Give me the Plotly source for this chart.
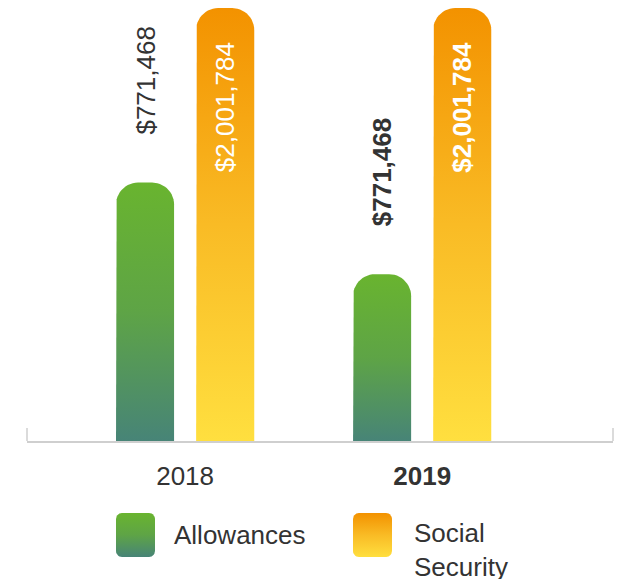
import numpy as np
import plotly.graph_objects as go

# ---------------- data ----------------
years = ["2018", "2019"]
year_ticktext = ["2018", "<b>2019</b>"]
allowances = [1195000, 771468]
social_security = [2001784, 2001784]
allowance_labels = ["$771,468", "<b>$771,468</b>"]
social_labels = ["$2,001,784", "<b>$2,001,784</b>"]
series_names = ["Allowances", "Social<br>Security"]

# ---------------- layout constants ----------------
W, H = 618, 579
PL, PR, PT, PB = 27, 613, 8, 441          # plot area in pixels
X_RANGE = [-0.667, 1.805]
Y_RANGE = [0, max(social_security)]
BAR_W = 0.245
OFFSET = 0.169
CORNER_PX = 22
FONT = "Liberation Sans, Arial, Helvetica, sans-serif"
TXT = "#333333"

GREEN_SCALE = [[0, "#478477"], [0.5, "#5ea446"], [1, "#69b42f"]]
ORANGE_SCALE = [[0, "#ffdf3f"], [0.5, "#f9bb25"], [1, "#f39200"]]

px_per_x = (PR - PL) / (X_RANGE[1] - X_RANGE[0])
px_per_y = (PB - PT) / (Y_RANGE[1] - Y_RANGE[0])


def bar_shape(xc, h, n=14):
    rx = min(CORNER_PX / px_per_x, BAR_W / 2)
    ry = min(CORNER_PX / px_per_y, h)
    x0, x1 = xc - BAR_W / 2, xc + BAR_W / 2
    t1 = np.linspace(np.pi, np.pi / 2, n)
    t2 = np.linspace(np.pi / 2, 0, n)
    xs = [x0] + list(x0 + rx + rx * np.cos(t1)) + list(x1 - rx + rx * np.cos(t2)) + [x1, x0]
    ys = [0] + list(h - ry + ry * np.sin(t1)) + list(h - ry + ry * np.sin(t2)) + [0, 0]
    return xs, ys


def rounded_rect(x0, x1, ytop, ybot, r, n=8):
    # pixel-space rounded rectangle (y grows downward)
    def arc(cx, cy, a0, a1):
        t = np.linspace(a0, a1, n)
        return list(cx + r * np.cos(t)), list(cy - r * np.sin(t))
    xs, ys = [], []
    for cx, cy, a0, a1 in [(x0 + r, ytop + r, np.pi, np.pi / 2),
                           (x1 - r, ytop + r, np.pi / 2, 0),
                           (x1 - r, ybot - r, 0, -np.pi / 2),
                           (x0 + r, ybot - r, -np.pi / 2, -np.pi)]:
        ax, ay = arc(cx, cy, a0, a1)
        xs += ax
        ys += ay
    return xs + [xs[0]], ys + [ys[0]]


fig = go.Figure()

for vals, scale, off in [(allowances, GREEN_SCALE, -OFFSET), (social_security, ORANGE_SCALE, OFFSET)]:
    for i, v in enumerate(vals):
        xs, ys = bar_shape(i + off, v)
        fig.add_trace(go.Scatter(
            x=xs, y=ys, mode="lines", fill="toself",
            line=dict(width=0, color="rgba(0,0,0,0)"),
            fillgradient=dict(type="vertical", colorscale=scale, start=0, stop=v),
            showlegend=False, hoverinfo="skip", xaxis="x", yaxis="y",
        ))

# custom legend swatches on a pixel-space axis covering the whole figure
SW_TOP, SW_BOT = 513, 557
for sx, scale in [(116, GREEN_SCALE), (353, ORANGE_SCALE)]:
    xs, ys = rounded_rect(sx, sx + 39, SW_TOP, SW_BOT, 6)
    fig.add_trace(go.Scatter(
        x=xs, y=ys, mode="lines", fill="toself",
        line=dict(width=0, color="rgba(0,0,0,0)"),
        fillgradient=dict(type="vertical", colorscale=scale, start=SW_BOT, stop=SW_TOP),
        showlegend=False, hoverinfo="skip", xaxis="x2", yaxis="y2",
    ))

annotations = []
for i in range(len(years)):
    annotations.append(dict(
        x=i - OFFSET, y=allowances[i], xref="x", yref="y", text=allowance_labels[i],
        textangle=-90, showarrow=False, xanchor="center", yanchor="bottom", yshift=46,
        font=dict(family=FONT, size=26, color=TXT)))
    annotations.append(dict(
        x=i + OFFSET, y=social_security[i], xref="x", yref="y", text=social_labels[i],
        textangle=-90, showarrow=False, xanchor="center", yanchor="top", yshift=-32,
        font=dict(family=FONT, size=26, color="#ffffff")))

annotations.append(dict(x=172, y=535, xref="x2", yref="y2", text=series_names[0],
                        showarrow=False, xanchor="left", yanchor="middle",
                        font=dict(family=FONT, size=26, color=TXT)))
annotations.append(dict(x=412, y=516, xref="x2", yref="y2", text=series_names[1],
                        showarrow=False, xanchor="left", yanchor="top", align="left",
                        font=dict(family=FONT, size=26, color=TXT)))

shapes = []
for ex in (0, 1):
    shapes.append(dict(type="line", xref="x domain", yref="y domain",
                       x0=ex, x1=ex, y0=0, y1=13 / (PB - PT),
                       line=dict(color="#cfcfcf", width=1.5)))

fig.update_layout(
    width=W, height=H,
    margin=dict(l=0, r=0, t=0, b=0),
    paper_bgcolor="white", plot_bgcolor="rgba(0,0,0,0)",
    showlegend=False,
    xaxis=dict(domain=[PL / W, PR / W], range=X_RANGE, tickvals=list(range(len(years))),
               ticktext=year_ticktext, showgrid=False, zeroline=False, ticks="",
               showline=True, linecolor="#cfcfcf", linewidth=1.5, ticklabelstandoff=11,
               tickfont=dict(family=FONT, size=26, color=TXT), fixedrange=True),
    yaxis=dict(domain=[1 - PB / H, 1 - PT / H], range=Y_RANGE, visible=False,
               showgrid=False, zeroline=False, fixedrange=True),
    xaxis2=dict(domain=[0, 1], range=[0, W], visible=False, anchor="y2", fixedrange=True),
    yaxis2=dict(domain=[0, 1], range=[H, 0], visible=False, anchor="x2", fixedrange=True),
    annotations=annotations,
    shapes=shapes,
)

fig.write_html("out.html", config={"displayModeBar": False},
               post_script="document.body.style.margin='0';document.body.style.overflow='hidden';")
